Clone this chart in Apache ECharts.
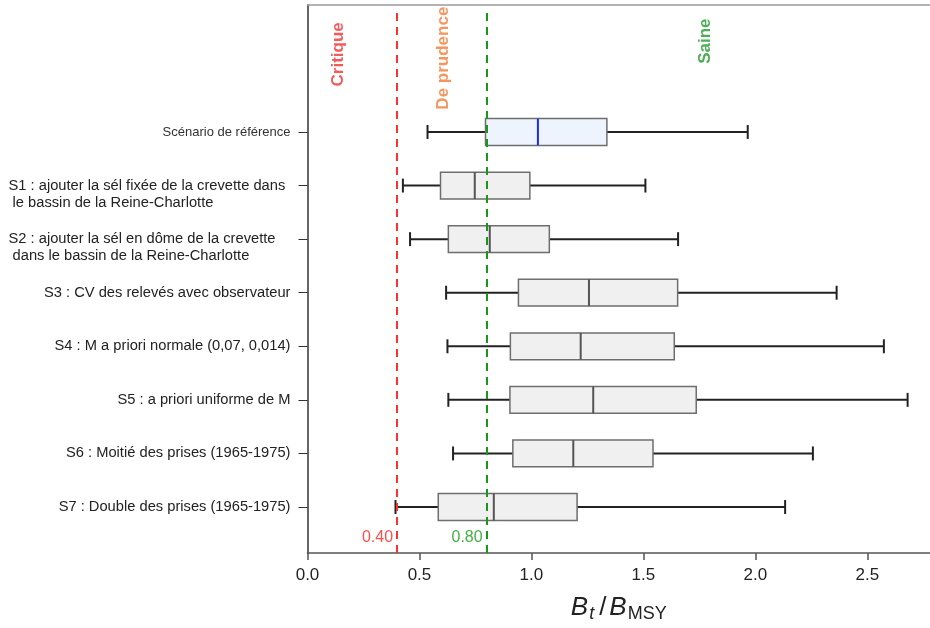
<!DOCTYPE html>
<html>
<head>
<meta charset="utf-8">
<script src="https://cdn.jsdelivr.net/npm/echarts@6/dist/echarts.min.js"></script>
<style>
  html, body { margin: 0; padding: 0; background: #fff; }
  #chart { width: 930px; height: 628px; }
</style>
</head>
<body>
<div id="chart"></div>
<script>
// scenarios, top to bottom
var categories = [
    'Scénario de référence',
    'S1 : ajouter la sél fixée de la crevette dans\n le bassin de la Reine-Charlotte',
    'S2 : ajouter la sél en dôme de la crevette\n dans le bassin de la Reine-Charlotte',
    'S3 : CV des relevés avec observateur',
    'S4 : M a priori normale (0,07, 0,014)',
    'S5 : a priori uniforme de M',
    'S6 : Moitié des prises (1965-1975)',
    'S7 : Double des prises (1965-1975)'
];
var mins    = [0.536, 0.426, 0.458, 0.619, 0.625, 0.629, 0.650, 0.393];
var q1s     = [0.795, 0.594, 0.629, 0.942, 0.906, 0.904, 0.917, 0.584];
var medians = [1.029, 0.747, 0.814, 1.257, 1.220, 1.276, 1.187, 0.832];
var q3s     = [1.337, 0.993, 1.080, 1.653, 1.638, 1.736, 1.543, 1.204];
var maxs    = [1.966, 1.509, 1.655, 2.363, 2.574, 2.680, 2.257, 2.133];

var thresholds = [0.4, 0.8];
var thresholdLabels = ['0.40', '0.80'];
var zoneNames = ['Critique', 'De prudence', 'Saine'];
var zoneX = [0.136, 0.606, 1.775];

var xMin = 0, xMax = 2.78;

var boxData = categories.map(function (c, i) {
    return [i, mins[i], q1s[i], medians[i], q3s[i], maxs[i]];
});

function renderBox(params, api) {
    var idx = api.value(0);
    var yc = api.coord([0, idx])[1];
    var band = api.size([0, 1])[1];
    var boxH = band * 0.5;
    var capH = band * 0.26;
    var x = [1, 2, 3, 4, 5].map(function (d) {
        return api.coord([api.value(d), idx])[0];
    });
    var isRef = idx === 0;
    var wStyle = { stroke: '#222', lineWidth: 2 };
    return {
        type: 'group',
        children: [
            { type: 'line', shape: { x1: x[0], y1: yc, x2: x[1], y2: yc }, style: wStyle },
            { type: 'line', shape: { x1: x[3], y1: yc, x2: x[4], y2: yc }, style: wStyle },
            { type: 'line', shape: { x1: x[0], y1: yc - capH / 2, x2: x[0], y2: yc + capH / 2 }, style: wStyle },
            { type: 'line', shape: { x1: x[4], y1: yc - capH / 2, x2: x[4], y2: yc + capH / 2 }, style: wStyle },
            {
                type: 'rect',
                shape: { x: x[1], y: yc - boxH / 2, width: x[3] - x[1], height: boxH },
                style: { fill: isRef ? '#edf4fd' : '#f0f0f0', stroke: '#6e6e6e', lineWidth: 1.5 }
            },
            {
                type: 'line',
                shape: { x1: x[2], y1: yc - boxH / 2, x2: x[2], y2: yc + boxH / 2 },
                style: { stroke: isRef ? '#1a2cf0' : '#555', lineWidth: 2 }
            }
        ]
    };
}

var chart = echarts.init(document.getElementById('chart'));

var option = {
    backgroundColor: '#fff',
    animation: false,
    textStyle: { fontFamily: 'Liberation Sans, Arial, sans-serif' },
    grid: [
        { left: 307.5, right: 0, top: 5, bottom: 65 },
        { left: 307.5, right: 0, top: 105.2, bottom: 94.2 }
    ],
    xAxis: [
        {
            gridIndex: 0, type: 'value', min: xMin, max: xMax, interval: 0.5,
            axisLine: { onZero: false, lineStyle: { color: '#555', width: 1.5 } },
            axisTick: { length: 7, lineStyle: { color: '#555', width: 1.5 } },
            axisLabel: {
                color: '#222', fontSize: 17, margin: 14,
                formatter: function (v) { return v.toFixed(1); },
                showMaxLabel: false
            },
            splitLine: { show: false },
            name: '{b|B}{s|t}{n|/}{b|B}{m|MSY}',
            nameLocation: 'middle',
            nameGap: 40,
            nameTextStyle: {
                rich: {
                    b: { fontSize: 26, fontStyle: 'italic', color: '#222', lineHeight: 30 },
                    s: { fontSize: 18, fontStyle: 'italic', color: '#222', verticalAlign: 'bottom', padding: [0, 5, 0, 1] },
                    n: { fontSize: 26, color: '#222', padding: [0, 3, 0, 0] },
                    m: { fontSize: 18, color: '#222', verticalAlign: 'bottom', padding: [0, 0, 0, 1] }
                }
            }
        },
        {
            gridIndex: 0, type: 'value', min: xMin, max: xMax, position: 'top',
            axisLine: { onZero: false, lineStyle: { color: '#999', width: 1.5 } },
            axisTick: { show: false }, axisLabel: { show: false }, splitLine: { show: false }
        },
        {
            gridIndex: 1, type: 'value', min: xMin, max: xMax, show: false
        }
    ],
    yAxis: [
        {
            gridIndex: 0, type: 'value', min: 0, max: 1,
            axisLine: { show: true, onZero: false, lineStyle: { color: '#333', width: 1.5 } },
            axisTick: { show: false }, axisLabel: { show: false }, splitLine: { show: false }
        },
        {
            gridIndex: 1, type: 'category', data: categories, inverse: true,
            axisLine: { show: false },
            axisTick: { show: true, alignWithLabel: true, length: 9, lineStyle: { color: '#333', width: 1 } },
            axisLabel: {
                margin: 17,
                color: '#222',
                fontSize: 14.7,
                lineHeight: 18,
                formatter: function (v) {
                    if (v.indexOf('\n') >= 0) {
                        var parts = v.split('\n');
                        return '{w| }\n{w|' + parts[0] + '}\n{w|' + parts[1] + '}';
                    }
                    if (v === categories[0]) return '{r|' + v + '}';
                    return v;
                },
                rich: {
                    w: { width: 282, align: 'left', fontSize: 14.7, color: '#222', lineHeight: 17 },
                    r: { fontSize: 13, color: '#333' }
                }
            }
        }
    ],
    series: [
        {
            type: 'custom',
            xAxisIndex: 2, yAxisIndex: 1,
            renderItem: renderBox,
            encode: { x: [1, 2, 3, 4, 5], y: 0 },
            data: boxData,
            z: 3
        },
        {
            type: 'line',
            xAxisIndex: 0, yAxisIndex: 0,
            data: [],
            markLine: {
                symbol: 'none',
                silent: true,
                label: { show: false },
                data: [
                    [{ coord: [thresholds[0], 0], lineStyle: { color: '#ff3030' } }, { coord: [thresholds[0], 0.988] }],
                    [{ coord: [thresholds[1], 0], lineStyle: { color: '#169a16' } }, { coord: [thresholds[1], 0.988] }]
                ],
                lineStyle: { type: [8, 6], width: 2 }
            },
            z: 2
        },
        {
            type: 'scatter',
            xAxisIndex: 0, yAxisIndex: 0,
            symbolSize: 0,
            silent: true,
            data: [
                { value: [thresholds[0], 0.028], label: { formatter: thresholdLabels[0], color: '#ff2020' } },
                { value: [thresholds[1], 0.028], label: { formatter: thresholdLabels[1], color: '#169a16' } }
            ],
            label: { show: true, position: 'left', distance: 4, fontSize: 16 }
        },
        {
            type: 'scatter',
            xAxisIndex: 0, yAxisIndex: 0,
            symbolSize: 0,
            silent: true,
            data: [
                { value: [zoneX[0], 0.91], label: { formatter: zoneNames[0], color: '#f03232' } },
                { value: [zoneX[1], 0.903], label: { formatter: zoneNames[1], color: '#f47a35' } },
                { value: [zoneX[2], 0.934], label: { formatter: zoneNames[2], color: '#1f9a2a' } }
            ],
            label: {
                show: true, position: 'inside', rotate: 90,
                fontSize: 17, fontWeight: 'bold'
            }
        }
    ]
};

chart.setOption(option);
</script>
</body>
</html>
